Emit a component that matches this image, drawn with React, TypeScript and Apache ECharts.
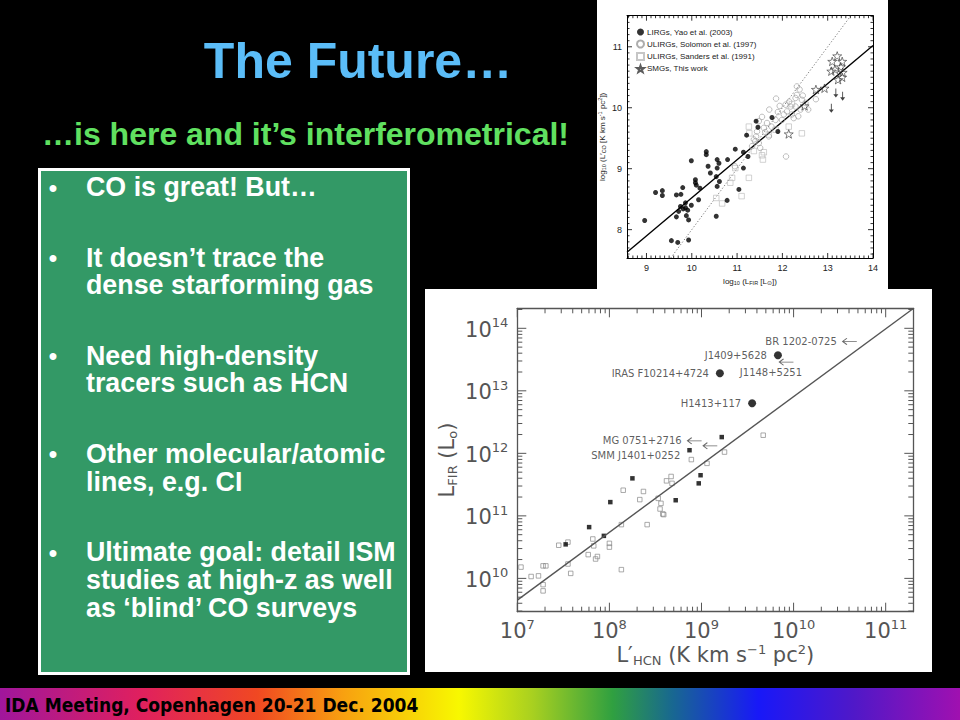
import React, { useEffect, useRef } from 'react';
import * as echarts from 'echarts';

// ---------- slide texts ----------
const titleText = 'The Future…';
const subtitleText = '…is here and it’s interferometrical!';
const bulletItems: string[][] = [
  ['CO is great! But…'],
  ['It doesn’t trace the', 'dense starforming gas'],
  ['Need high-density', 'tracers such as HCN'],
  ['Other molecular/atomic', 'lines, e.g. CI'],
  ['Ultimate goal: detail ISM', 'studies at high-z as well', 'as ‘blind’ CO surveys'],
];
const footerText = 'IDA Meeting, Copenhagen 20-21 Dec. 2004';

// ---------- top chart: log L'CO vs log LFIR ----------
const topXTicks = [9, 10, 11, 12, 13, 14];
const topYTicks = [8, 9, 10, 11];
const legendNames = [
  'LIRGs, Yao et al. (2003)',
  'ULIRGs, Solomon et al. (1997)',
  'ULIRGs, Sanders et al. (1991)',
  'SMGs, This work',
];
const yaoLIRGs = [
  [8.96, 8.15], [9.2, 8.61], [9.35, 8.64], [9.35, 8.56], [9.55, 7.82], [9.66, 8.57], [9.66, 8.21],
  [9.69, 7.79], [9.76, 8.58], [9.8, 8.69], [9.71, 8.3], [9.81, 8.34], [9.75, 8.38], [9.86, 8.44],
  [9.86, 8.36], [9.91, 8.32], [9.88, 8.23], [9.93, 8.16], [9.99, 8.4], [9.93, 7.83], [9.99, 9.13],
  [10.08, 8.82], [10.08, 8.77], [10.1, 8.73], [10.18, 8.68], [10.15, 8.49], [10.32, 9.28], [10.32, 9.23],
  [10.36, 9.04], [10.41, 8.93], [10.54, 8.22], [10.56, 9.15], [10.6, 9.09], [10.56, 9.01], [10.54, 8.87],
  [10.61, 8.79], [10.56, 8.71], [10.78, 8.48], [10.79, 9.15], [10.96, 9.32], [11.04, 8.66], [11.14, 9.01],
  [11.14, 9.27], [11.21, 9.55], [11.24, 9.2], [11.42, 9.78], [11.46, 9.68], [11.77, 9.84], [11.9, 9.61],
];
const solomonULIRGs = [
  [11.86, 10.15], [11.94, 10.03], [11.9, 9.93], [11.71, 9.97], [11.55, 9.85], [11.48, 9.78], [11.59, 9.67],
  [11.44, 9.61], [11.42, 9.53], [11.37, 9.48], [11.48, 9.42], [11.33, 9.37], [11.51, 9.34], [11.7, 9.53],
  [11.76, 9.69], [11.99, 9.8], [12.03, 9.89], [12.1, 9.94], [12.18, 10.02], [12.21, 9.89], [12.29, 10.16],
  [12.38, 10.3], [12.32, 10.21], [12.43, 10.13], [12.51, 10.08], [12.57, 9.97], [12.4, 9.97], [12.29, 10.02],
  [12.08, 9.2], [12.74, 10.14], [12.25, 9.83], [12.35, 9.86], [12.07, 10.05], [11.85, 9.8], [11.66, 9.75],
  [10.95, 9.04], [12.32, 10.35], [12.45, 10.2], [11.62, 9.6], [11.4, 9.45], [12.15, 10.1],
];
const sandersULIRGs = [
  [11.26, 9.69], [11.27, 9.58], [11.7, 9.56], [11.59, 9.27], [11.57, 9.15], [11.26, 8.85], [11.1, 8.55],
  [10.67, 8.43], [10.54, 8.52], [10.85, 8.77], [10.89, 8.85], [10.96, 9.01], [12.14, 9.69], [12.43, 9.58],
  [11.85, 9.64], [11.37, 9.29], [12.21, 10.06], [11.55, 9.22],
];
const smgStars = [
  [13.21, 10.85], [13.1, 10.76], [13.32, 10.76], [13.16, 10.63], [13.29, 10.67], [13.33, 10.58],
  [13.08, 10.6], [13.23, 10.46], [13.32, 10.5], [12.74, 10.3], [12.93, 10.32], [12.49, 10.03], [12.14, 9.57],
];
const smgLimits = [[13.18, 10.24], [13.33, 10.19], [13.08, 9.99]];
const coFitLine = [[8.57, 7.63], [14, 11.02]];
const coUnityLine = [[9.535, 7.535], [13.51, 11.51]];

// ---------- bottom chart: log LFIR vs log L'HCN ----------
const hcnXTicks = [7, 8, 9, 10, 11];
const hcnYTicks = [10, 11, 12, 13, 14];
const hcnFilled = [
  [7.525, 10.544], [7.78, 10.82], [7.94, 10.68], [8.01, 11.22], [8.25, 11.6],
  [8.72, 11.25], [8.87, 12.05], [8.99, 11.65], [8.97, 11.52], [9.22, 12.26],
];
const hcnOpen = [
  [7.04, 10.18], [7.15, 10.03], [7.23, 10.04], [7.28, 10.2], [7.31, 10.2], [7.28, 9.9], [7.28, 9.8],
  [7.45, 10.53], [7.55, 10.58], [7.55, 10.23], [7.58, 10.08], [7.77, 10.38], [7.82, 10.63], [7.83, 10.52],
  [7.85, 10.31], [7.87, 10.35], [8.0, 10.56], [8.0, 10.5], [8.13, 10.14], [8.13, 10.86], [8.15, 11.41],
  [8.33, 11.26], [8.37, 11.39], [8.41, 10.86], [8.53, 11.28], [8.56, 11.2], [8.55, 11.11], [8.58, 11.03],
  [8.59, 11.02], [8.62, 11.56], [8.67, 11.63], [8.68, 11.52], [8.89, 11.9], [9.06, 11.84], [9.25, 12.02],
  [9.67, 12.29],
];
const qsoNames = ['IRAS F10214+4724', 'J1409+5628', 'H1413+117'];
const qsoValues = [[9.2, 13.28], [9.83, 13.57], [9.55, 12.8]];
const limitNames = ['BR 1202-0725', 'J1148+5251', 'MG 0751+2716', 'SMM J1401+0252'];
const limitValues = [[10.605, 13.79], [9.917, 13.46], [8.92, 12.2], [9.09, 12.12]];
const hcnFitLine = [[7, 9.653], [11.304, 14.32]];

const STAR = 'path://M10,0 L12.35,6.76 L19.51,6.91 L13.8,11.24 L15.88,18.09 L10,14 L4.12,18.09 L6.2,11.24 L0.49,6.91 L7.65,6.76 Z';
const DOWN_ARROW = 'path://M4.4,0 L5.6,0 L5.6,10 L8.5,10 L5,16 L1.5,10 L4.4,10 Z';
const LEFT_ARROW = 'path://M0,5 L5,0 L5.9,0.9 L2.3,4.5 L16,4.5 L16,5.5 L2.3,5.5 L5.9,9.1 L5,10 Z';

const SANS = '"Liberation Sans", Arial, sans-serif';
const DJ = '"DejaVu Sans", sans-serif';

function tickRenderer(color: string, width: number) {
  return (params: any, api: any) => {
    const cs = params.coordSys;
    const p = api.coord([api.value(0), api.value(1)]);
    const isX = api.value(2) === 1;
    const len = api.value(3);
    const st = () => ({ stroke: color, lineWidth: width });
    if (isX) {
      const b = cs.y + cs.height;
      return {
        type: 'group',
        children: [
          { type: 'line', shape: { x1: p[0], y1: b, x2: p[0], y2: b - len }, style: st() },
          { type: 'line', shape: { x1: p[0], y1: cs.y, x2: p[0], y2: cs.y + len }, style: st() },
        ],
      };
    }
    const r = cs.x + cs.width;
    return {
      type: 'group',
      children: [
        { type: 'line', shape: { x1: cs.x, y1: p[1], x2: cs.x + len, y2: p[1] }, style: st() },
        { type: 'line', shape: { x1: r, y1: p[1], x2: r - len, y2: p[1] }, style: st() },
      ],
    };
  };
}

function buildOption() {
  const topMin = [8.57, 7.535];
  const topMax = [14, 11.51];
  const topTicks: number[][] = [];
  for (let i = 86; i <= 140; i++) topTicks.push([i / 10, topMin[1] + 0.1, 1, i % 10 === 0 ? 5 : 2.5]);
  for (let i = 76; i <= 115; i++) topTicks.push([topMin[0] + 0.1, i / 10, 0, i % 10 === 0 ? 5 : 2.5]);

  const botMin = [7, 9.467];
  const botMax = [11.3, 14.32];
  const botTicks: number[][] = [];
  for (let n = 7; n <= 11; n++)
    for (let k = 1; k <= 9; k++) {
      const v = n + Math.log10(k);
      if (v <= botMax[0]) botTicks.push([v, botMin[1] + 0.1, 1, k === 1 ? 9 : 5]);
    }
  for (let n = 9; n <= 14; n++)
    for (let k = 1; k <= 9; k++) {
      const v = n + Math.log10(k);
      if (v >= botMin[1] && v <= botMax[1]) botTicks.push([botMin[0] + 0.1, v, 0, k === 1 ? 9 : 5]);
    }

  const smallRich = {
    m: { fontSize: 8, color: '#222', fontFamily: SANS, lineHeight: 10, verticalAlign: 'middle' },
    s: { fontSize: 5.5, color: '#222', fontFamily: SANS, lineHeight: 6, verticalAlign: 'bottom' },
    u: { fontSize: 5.5, color: '#222', fontFamily: SANS, lineHeight: 6, verticalAlign: 'top' },
  };
  const bigRich = {
    m: { fontSize: 21, color: '#555', fontFamily: DJ, lineHeight: 24, verticalAlign: 'middle' },
    s: { fontSize: 13, color: '#555', fontFamily: DJ, lineHeight: 12, verticalAlign: 'bottom' },
    u: { fontSize: 13, color: '#555', fontFamily: DJ, lineHeight: 12, verticalAlign: 'top' },
  };
  const powRich = {
    b: { fontSize: 21, color: '#555', fontFamily: DJ, lineHeight: 24, verticalAlign: 'bottom' },
    s: { fontSize: 13, color: '#555', fontFamily: DJ, lineHeight: 10, verticalAlign: 'top' },
  };

  const lineOnly = (gridIndex: number, min: number, max: number, position: string) => ({
    gridIndex, type: 'value', min, max, position,
    axisLine: { show: true, onZero: false, lineStyle: { color: gridIndex === 0 ? '#000' : '#555', width: gridIndex === 0 ? 1 : 1.3 } },
    axisTick: { show: false }, axisLabel: { show: false }, splitLine: { show: false },
  });

  // bullets layout
  const bulletEls: any[] = [];
  let baseline = 196;
  bulletItems.forEach((lines, pi) => {
    if (pi > 0) baseline += 70.5;
    bulletEls.push({
      type: 'text', x: 53, y: baseline - 9,
      style: { text: '•', fill: '#fff', font: `bold 24px ${SANS}`, align: 'center', verticalAlign: 'middle' },
    });
    lines.forEach((ln, li) => {
      if (li > 0) baseline += 27.7;
      bulletEls.push({
        type: 'text', x: 86, y: baseline - 9,
        style: { text: ln, fill: '#fff', font: `bold 26.8px ${SANS}`, align: 'left', verticalAlign: 'middle' },
      });
    });
  });

  return {
    animation: false,
    backgroundColor: '#000',
    graphic: {
      elements: [
        { type: 'rect', z: -10, shape: { x: 597, y: 0, width: 291, height: 290 }, style: { fill: '#fff' } },
        { type: 'rect', z: -10, shape: { x: 425, y: 289, width: 507, height: 383 }, style: { fill: '#fff' } },
        {
          type: 'text', x: 358, y: 61,
          style: { text: titleText, fill: '#5BBDF8', font: `bold 50px ${SANS}`, align: 'center', verticalAlign: 'middle' },
        },
        {
          type: 'text', x: 42, y: 134,
          style: { text: subtitleText, fill: '#60E060', font: `bold 32px ${SANS}`, align: 'left', verticalAlign: 'middle' },
        },
        {
          type: 'rect', shape: { x: 39.5, y: 169.5, width: 369, height: 504 },
          style: { fill: '#339966', stroke: '#fff', lineWidth: 3 },
        },
        ...bulletEls,
        {
          type: 'rect', shape: { x: 0, y: 688, width: 960, height: 32 },
          style: {
            fill: new echarts.graphic.LinearGradient(0, 0, 1, 0, [
              { offset: 0, color: '#a0169c' },
              { offset: 0.147, color: '#e0205e' },
              { offset: 0.268, color: '#f04822' },
              { offset: 0.357, color: '#f8a010' },
              { offset: 0.478, color: '#f8f800' },
              { offset: 0.555, color: '#a8d020' },
              { offset: 0.638, color: '#30a040' },
              { offset: 0.7, color: '#186890' },
              { offset: 0.79, color: '#1818f8' },
              { offset: 0.89, color: '#5018c8' },
              { offset: 1, color: '#a010b0' },
            ]),
          },
        },
        {
          type: 'text', x: 5, y: 705,
          style: { text: footerText, fill: '#000', font: `bold 19px "DejaVu Sans Condensed", "DejaVu Sans", sans-serif`, align: 'left', verticalAlign: 'middle' },
        },
      ],
    },
    legend: {
      data: legendNames,
      orient: 'vertical',
      left: 636, top: 28,
      itemWidth: 7, itemHeight: 7, itemGap: 3.5,
      padding: 0,
      textStyle: { fontSize: 8, color: '#222', fontFamily: SANS, padding: [0, 0, 0, -2] },
      selectedMode: false,
    },
    grid: [
      { left: 627, top: 15.7, width: 246, height: 242.3 },
      { left: 517.3, top: 308.3, width: 396, height: 303.4 },
    ],
    xAxis: [
      {
        gridIndex: 0, type: 'value', min: topMin[0], max: topMax[0], position: 'bottom',
        axisLine: { show: true, onZero: false, lineStyle: { color: '#000', width: 1 } },
        axisTick: { show: false }, splitLine: { show: false },
        axisLabel: { customValues: topXTicks, fontSize: 9, color: '#222', margin: 5, fontFamily: SANS },
        name: '{m|log}{s|10}{m| (L}{s|FIR}{m| [L}{s|⊙}{m|])}',
        nameLocation: 'middle', nameGap: 18,
        nameTextStyle: { rich: smallRich },
      },
      lineOnly(0, topMin[0], topMax[0], 'top'),
      {
        gridIndex: 1, type: 'value', min: botMin[0], max: botMax[0], position: 'bottom',
        axisLine: { show: true, onZero: false, lineStyle: { color: '#555', width: 1.3 } },
        axisTick: { show: false }, splitLine: { show: false },
        axisLabel: {
          customValues: hcnXTicks, margin: 6,
          formatter: (v: number) => `{b|10}{s|${Math.round(v)}}`,
          rich: powRich,
        },
        name: '{m|L′}{s|HCN}{m| (K km s}{u|−1}{m| pc}{u|2}{m|)}',
        nameLocation: 'middle', nameGap: 26,
        nameTextStyle: { rich: bigRich },
      },
      lineOnly(1, botMin[0], botMax[0], 'top'),
    ],
    yAxis: [
      {
        gridIndex: 0, type: 'value', min: topMin[1], max: topMax[1], position: 'left',
        axisLine: { show: true, onZero: false, lineStyle: { color: '#000', width: 1 } },
        axisTick: { show: false }, splitLine: { show: false },
        axisLabel: { customValues: topYTicks, fontSize: 9, color: '#222', margin: 5, fontFamily: SANS },
        name: '{m|log}{s|10}{m| (L′}{s|CO}{m| [K km s}{u|-1}{m| pc}{u|2}{m|])}',
        nameLocation: 'middle', nameGap: 20,
        nameTextStyle: { rich: smallRich },
      },
      lineOnly(0, topMin[1], topMax[1], 'right'),
      {
        gridIndex: 1, type: 'value', min: botMin[1], max: botMax[1], position: 'left',
        axisLine: { show: true, onZero: false, lineStyle: { color: '#555', width: 1.3 } },
        axisTick: { show: false }, splitLine: { show: false },
        axisLabel: {
          customValues: hcnYTicks, margin: 9,
          formatter: (v: number) => `{b|10}{s|${Math.round(v)}}`,
          rich: powRich,
        },
        name: '{m|L}{s|FIR}{m| (L}{s|o}{m|)}',
        nameLocation: 'middle', nameGap: 58,
        nameTextStyle: { rich: bigRich },
      },
      lineOnly(1, botMin[1], botMax[1], 'right'),
    ],
    series: [
      // ----- top chart -----
      {
        type: 'custom', name: 'ticksTop', xAxisIndex: 0, yAxisIndex: 0, silent: true, clip: false, z: 3,
        renderItem: tickRenderer('#000', 0.8), data: topTicks,
      },
      {
        type: 'line', name: 'unity', xAxisIndex: 0, yAxisIndex: 0, data: coUnityLine, symbol: 'none',
        lineStyle: { color: '#555', width: 0.8, type: [1.2, 2] }, silent: true, z: 2,
      },
      {
        type: 'line', name: 'fit', xAxisIndex: 0, yAxisIndex: 0, data: coFitLine, symbol: 'none',
        lineStyle: { color: '#000', width: 1.4 }, silent: true, z: 2,
      },
      {
        type: 'scatter', name: legendNames[2], xAxisIndex: 0, yAxisIndex: 0, data: sandersULIRGs,
        symbol: 'rect', symbolSize: 5.5,
        itemStyle: { color: 'rgba(255,255,255,0)', borderColor: '#b8b8b8', borderWidth: 0.8 },
      },
      {
        type: 'scatter', name: legendNames[1], xAxisIndex: 0, yAxisIndex: 0, data: solomonULIRGs,
        symbol: 'circle', symbolSize: 5.5,
        itemStyle: { color: 'rgba(255,255,255,0)', borderColor: '#999', borderWidth: 0.8 },
      },
      {
        type: 'scatter', name: legendNames[0], xAxisIndex: 0, yAxisIndex: 0, data: yaoLIRGs,
        symbol: 'circle', symbolSize: 5, itemStyle: { color: '#000' },
      },
      {
        type: 'scatter', name: legendNames[3], xAxisIndex: 0, yAxisIndex: 0, data: smgStars,
        symbol: STAR, symbolSize: 9, symbolKeepAspect: true,
        itemStyle: { color: 'rgba(255,255,255,0)', borderColor: '#333', borderWidth: 0.8 },
      },
      {
        type: 'scatter', name: 'SMG limits', xAxisIndex: 0, yAxisIndex: 0, data: smgLimits,
        symbol: DOWN_ARROW, symbolSize: [5, 9], itemStyle: { color: '#111' },
      },
      // ----- bottom chart -----
      {
        type: 'custom', name: 'ticksBottom', xAxisIndex: 2, yAxisIndex: 2, silent: true, clip: false, z: 3,
        renderItem: tickRenderer('#555', 1), data: botTicks,
      },
      {
        type: 'line', name: 'hcnFit', xAxisIndex: 2, yAxisIndex: 2, data: hcnFitLine, symbol: 'none',
        lineStyle: { color: '#555', width: 1.4 }, silent: true,
      },
      {
        type: 'scatter', name: 'hcnOpen', xAxisIndex: 2, yAxisIndex: 2, data: hcnOpen,
        symbol: 'rect', symbolSize: 4.5,
        itemStyle: { color: 'rgba(255,255,255,0)', borderColor: '#888', borderWidth: 0.9 },
      },
      {
        type: 'scatter', name: 'hcnFilled', xAxisIndex: 2, yAxisIndex: 2, data: hcnFilled,
        symbol: 'rect', symbolSize: 4.5, itemStyle: { color: '#000' },
      },
      {
        type: 'scatter', name: 'hcnQSOs', xAxisIndex: 2, yAxisIndex: 2,
        data: qsoValues.map((v, i) => ({ name: qsoNames[i], value: v })),
        symbol: 'circle', symbolSize: 8, itemStyle: { color: '#000' },
        label: {
          show: true, position: 'left', distance: 7, formatter: '{b}',
          fontSize: 10, color: '#333', fontFamily: DJ,
        },
      },
      {
        type: 'scatter', name: 'hcnLimits', xAxisIndex: 2, yAxisIndex: 2,
        data: limitValues.map((v, i) => {
          const item: any = { name: limitNames[i], value: v };
          if (i === 1) item.label = { position: 'bottom', distance: 2, offset: [-15, 0] };
          if (i === 3) item.label = { position: 'left', distance: 5, offset: [-17, 10] };
          return item;
        }),
        symbol: LEFT_ARROW, symbolSize: [15, 7], itemStyle: { color: '#444' },
        label: {
          show: true, position: 'left', distance: 5, formatter: '{b}',
          fontSize: 10, color: '#333', fontFamily: DJ,
        },
      },
    ],
  };
}

export default function App() {
  const ref = useRef<HTMLDivElement>(null);
  useEffect(() => {
    if (!ref.current) return;
    const chart = echarts.init(ref.current, null, { renderer: 'svg' });
    chart.setOption(buildOption() as any);
    return () => chart.dispose();
  }, []);
  return (
    <div
      ref={ref}
      style={{ position: 'fixed', left: 0, top: 0, width: 960, height: 720, background: '#000' }}
    />
  );
}
